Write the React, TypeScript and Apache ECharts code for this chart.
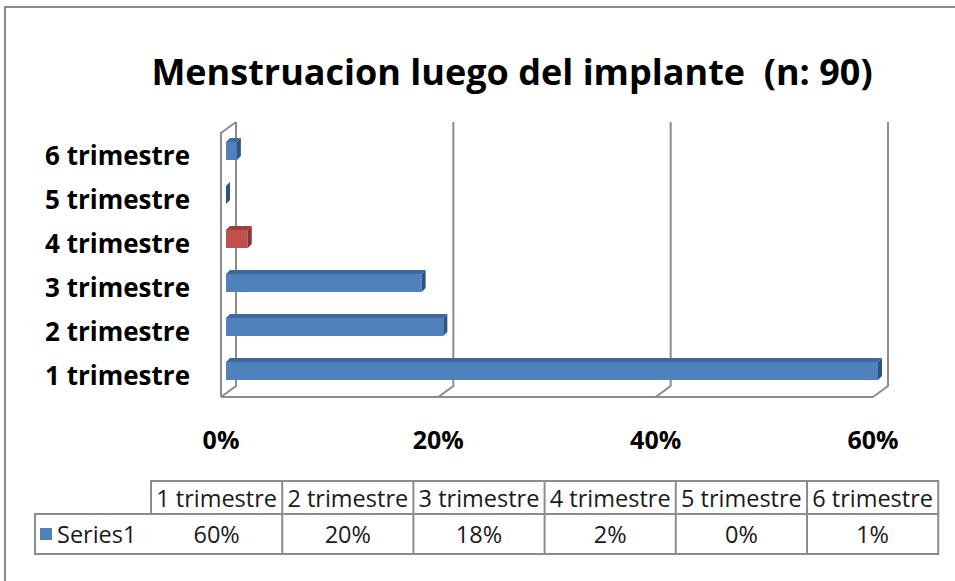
import React, { useEffect, useRef } from "react";
import * as echarts from "echarts";

const categories = ["1 trimestre", "2 trimestre", "3 trimestre", "4 trimestre", "5 trimestre", "6 trimestre"];
const values = [60, 20, 18, 2, 0, 1];
const tableValues = ["60%", "20%", "18%", "2%", "0%", "1%"];
const xTicks = [0, 20, 40, 60];
const seriesName = "Series1";
const titleText = "Menstruacion luego del implante  (n: 90)";
const highlightIndex = 3;

const FONT = "'Open Sans', 'Liberation Sans', sans-serif";
const BLUE = "#4F81BD";
const BLUE_TOP = "#3F699C";
const BLUE_SIDE = "#2F5280";
const RED = "#C0504D";
const RED_TOP = "#9E3E3B";
const RED_SIDE = "#8A3230";
const GRID = "#8c8c8c";

// 3D offsets (px)
const WALL_DX = 15;
const WALL_DY = 11;
const BAR_DX = 5;
const BAR_DY = 4;
const BAR_DEPTH = 4;
const BAR_H = 18;

export default function App() {
  const ref = useRef<HTMLDivElement>(null);
  useEffect(() => {
    if (!ref.current) return;
    const chart = echarts.init(ref.current, undefined, { renderer: "svg" });

    const tableLeft = 151;
    const colW = 131.2;
    const tableRight = tableLeft + colW * categories.length;
    const hTop = 481, hMid = 514, hBot = 554, seriesLeft = 35;

    const tableEls: any[] = [];
    tableEls.push({ type: "rect", shape: { x: tableLeft, y: hTop, width: tableRight - tableLeft, height: hMid - hTop }, style: { fill: "none", stroke: GRID, lineWidth: 2 } });
    tableEls.push({ type: "rect", shape: { x: seriesLeft, y: hMid, width: tableRight - seriesLeft, height: hBot - hMid }, style: { fill: "none", stroke: GRID, lineWidth: 2 } });
    for (let i = 1; i < categories.length; i++) {
      const x = tableLeft + i * colW;
      tableEls.push({ type: "line", shape: { x1: x, y1: hTop, x2: x, y2: hBot }, style: { stroke: GRID, lineWidth: 2 } });
    }
    categories.forEach((c, i) => {
      const cx = tableLeft + (i + 0.5) * colW;
      tableEls.push({ type: "text", x: cx, y: (hTop + hMid) / 2, style: { text: c, fontFamily: FONT, fontSize: 23.5, fill: "#1a1a1a", align: "center", verticalAlign: "middle" } });
      tableEls.push({ type: "text", x: cx, y: (hMid + hBot) / 2, style: { text: tableValues[i], fontFamily: FONT, fontSize: 23.5, fill: "#1a1a1a", align: "center", verticalAlign: "middle" } });
    });
    tableEls.push({ type: "rect", shape: { x: 40, y: 528, width: 12, height: 12 }, style: { fill: BLUE } });
    tableEls.push({ type: "text", x: 57, y: 534, style: { text: seriesName, fontFamily: FONT, fontSize: 23.5, fill: "#1a1a1a", align: "left", verticalAlign: "middle" } });

    chart.setOption({
      animation: false,
      backgroundColor: "#ffffff",
      grid: { left: 221, right: 82, top: 133, bottom: 184, containLabel: false },
      xAxis: {
        type: "value", min: 0, max: 60, interval: 20,
        axisLine: { show: false }, axisTick: { show: false }, splitLine: { show: false },
        axisLabel: { formatter: "{value}%", fontFamily: FONT, fontWeight: "bold", fontSize: 25, color: "#000", margin: 29 },
      },
      yAxis: {
        type: "category", data: categories,
        axisLine: { show: false }, axisTick: { show: false }, splitLine: { show: false },
        axisLabel: { fontFamily: FONT, fontWeight: "bold", fontSize: 26, color: "#000", margin: 31 },
      },
      graphic: [
        { type: "rect", shape: { x: 5, y: 7, width: 970, height: 600 }, style: { fill: "none", stroke: "#8a8a8a", lineWidth: 2 } },
        { type: "text", x: 512, y: 71, style: { text: titleText, fontFamily: FONT, fontWeight: "bold", fontSize: 36, fill: "#000", align: "center", verticalAlign: "middle" } },
        ...tableEls,
      ],
      series: [
        {
          type: "custom",
          name: "walls",
          silent: true,
          data: xTicks.map((t) => [t, 0]),
          encode: { x: 0, y: 1 },
          renderItem: (params: any, api: any) => {
            const v = api.value(0);
            const cs = params.coordSys;
            const top = cs.y;
            const bottom = cs.y + cs.height;
            const x = api.coord([v, 0])[0];
            const children: any[] = [];
            const ls = { stroke: GRID, lineWidth: 2, fill: "none" };
            children.push({ type: "polyline", shape: { points: [[x, bottom], [x + WALL_DX, bottom - WALL_DY], [x + WALL_DX, top - WALL_DY]] }, style: ls });
            if (v === xTicks[0]) {
              children.push({ type: "polyline", shape: { points: [[x + WALL_DX, top - WALL_DY], [x, top], [x, bottom]] }, style: ls });
            }
            if (v === xTicks[xTicks.length - 1]) {
              const x0 = api.coord([xTicks[0], 0])[0];
              children.push({ type: "line", shape: { x1: x0, y1: bottom, x2: x, y2: bottom }, style: ls });
            }
            return { type: "group", children };
          },
          z: 1,
        },
        {
          type: "custom",
          name: seriesName,
          data: values.map((v, i) => [v, i]),
          encode: { x: 0, y: 1 },
          renderItem: (params: any, api: any) => {
            const v = api.value(0);
            const idx = api.value(1);
            const p0 = api.coord([0, idx]);
            const p1 = api.coord([v, idx]);
            const x0 = p0[0] + BAR_DX;
            const x1 = p1[0] + BAR_DX;
            const yc = p0[1] - BAR_DY;
            const yt = yc - BAR_H / 2;
            const yb = yc + BAR_H / 2;
            const red = idx === highlightIndex;
            const d = BAR_DEPTH;
            return {
              type: "group",
              children: [
                { type: "rect", shape: { x: x0, y: yt, width: x1 - x0, height: yb - yt }, style: { fill: red ? RED : BLUE } },
                { type: "polygon", shape: { points: [[x0, yt], [x0 + d, yt - d], [x1 + d, yt - d], [x1, yt]] }, style: { fill: red ? RED_TOP : BLUE_TOP } },
                { type: "polygon", shape: { points: [[x1, yt], [x1 + d, yt - d], [x1 + d, yb - d], [x1, yb]] }, style: { fill: red ? RED_SIDE : BLUE_SIDE } },
              ],
            };
          },
          z: 2,
        },
      ],
    });
    return () => chart.dispose();
  }, []);
  return <div ref={ref} style={{ position: "fixed", left: 0, top: 0, width: 955, height: 581 }} />;
}
